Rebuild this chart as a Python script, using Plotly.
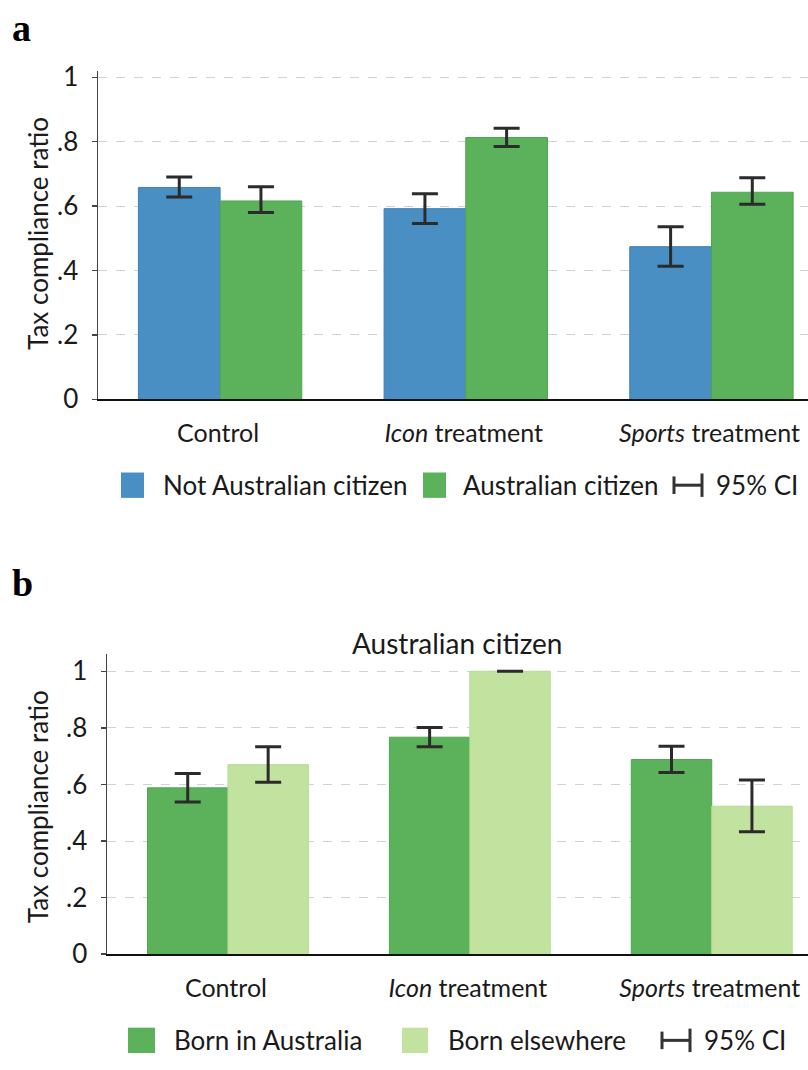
import plotly.graph_objects as go

W, H = 808, 1070
FONT = "Lato"
TXT = "#1a1a1a"
FS = 25

# ---------------- data ----------------
categories = ["Control", "<i>Icon</i> treatment", "<i>Sports</i> treatment"]

# Panel a
not_citizen_mean = [0.658, 0.592, 0.474]
not_citizen_lo = [0.628, 0.546, 0.413]
not_citizen_hi = [0.690, 0.638, 0.536]
citizen_mean = [0.616, 0.813, 0.643]
citizen_lo = [0.580, 0.785, 0.606]
citizen_hi = [0.660, 0.842, 0.688]

# Panel b (Australian citizens)
born_au_mean = [0.588, 0.767, 0.688]
born_au_lo = [0.538, 0.733, 0.642]
born_au_hi = [0.639, 0.801, 0.735]
born_else_mean = [0.670, 1.000, 0.523]
born_else_lo = [0.608, 1.000, 0.433]
born_else_hi = [0.733, 1.000, 0.616]

ytick_vals = [0, 0.2, 0.4, 0.6, 0.8, 1]
ytick_text = ["0", ".2", ".4", ".6", ".8", "1"]

series_names_a = ["Not Australian citizen", "Australian citizen"]
series_names_b = ["Born in Australia", "Born elsewhere"]
ci_label = "95% CI"
panel_b_title = "Australian citizen"
y_title = "Tax compliance ratio"

BLUE = "#4a8fc4"
GREEN = "#5bb25b"
LIGHT = "#c2e3a0"
ERR = "#2b2b2b"


def px(x):
    """page x pixel -> paper fraction"""
    return x / W


def py(y):
    """page y pixel -> paper fraction"""
    return (H - y) / H


def err(mean, lo, hi):
    return dict(type="data", symmetric=False,
                array=[h - m for m, h in zip(mean, hi)],
                arrayminus=[m - l for m, l in zip(mean, lo)],
                color=ERR, thickness=3, width=13)


fig = go.Figure()
fig.add_trace(go.Bar(x=categories, y=not_citizen_mean, name=series_names_a[0],
                     marker=dict(color=BLUE, line=dict(color="#3f80b6", width=1)),
                     error_y=err(not_citizen_mean, not_citizen_lo, not_citizen_hi),
                     xaxis="x", yaxis="y", offsetgroup="a1"))
fig.add_trace(go.Bar(x=categories, y=citizen_mean, name=series_names_a[1],
                     marker=dict(color=GREEN, line=dict(color="#4ea64e", width=1)),
                     error_y=err(citizen_mean, citizen_lo, citizen_hi),
                     xaxis="x", yaxis="y", offsetgroup="a2"))
fig.add_trace(go.Bar(x=categories, y=born_au_mean, name=series_names_b[0],
                     marker=dict(color=GREEN, line=dict(color="#4ea64e", width=1)),
                     error_y=err(born_au_mean, born_au_lo, born_au_hi),
                     xaxis="x2", yaxis="y2", offsetgroup="b1"))
fig.add_trace(go.Bar(x=categories, y=born_else_mean, name=series_names_b[1],
                     marker=dict(color=LIGHT, line=dict(color="#b5dc90", width=1)),
                     error_y=err(born_else_mean, born_else_lo, born_else_hi),
                     xaxis="x2", yaxis="y2", offsetgroup="b2"))

tickfont = dict(family=FONT, size=FS, color=TXT)
ytickfont = dict(family=FONT, size=26, color=TXT)

xa_common = dict(type="category", showline=True, linecolor="#111111", linewidth=2,
                 ticks="", showgrid=False, zeroline=False, tickfont=tickfont,
                 ticklabelstandoff=11, ticklabelshift=-2, fixedrange=True)
ya_common = dict(showline=True, linecolor="#444444", linewidth=1.5, ticks="outside",
                 ticklen=5, tickwidth=1.5, tickcolor="#444444",
                 tickvals=ytick_vals, ticktext=ytick_text, tickfont=ytickfont,
                 showgrid=True, gridcolor="#d2d2d2", griddash="dash", gridwidth=1,
                 zeroline=False, ticklabelstandoff=8, fixedrange=True)

fig.update_layout(
    width=W, height=H,
    margin=dict(l=0, r=0, t=0, b=0),
    paper_bgcolor="white", plot_bgcolor="white",
    barmode="group", bargap=0.335, bargroupgap=0,
    showlegend=False, hovermode=False,
    font=dict(family=FONT, color=TXT),
    xaxis=dict(domain=[px(98), 1], anchor="y", range=[-0.497, 2.393], **xa_common),
    yaxis=dict(domain=[py(398), py(62)], anchor="x", range=[0, 1.018], **ya_common),
    xaxis2=dict(domain=[px(107), 1], anchor="y2", range=[-0.500, 2.398], **xa_common),
    yaxis2=dict(domain=[py(966.7), py(659.3)], anchor="x2", range=[0, 1.06], **ya_common),
)

ann = []
shapes = []
# panel letters
ann.append(dict(text="<b>a</b>", x=px(10), y=py(17), xref="paper", yref="paper",
                xanchor="left", yanchor="middle", showarrow=False,
                font=dict(family="Liberation Serif", size=38, color="#000")))
ann.append(dict(text="<b>b</b>", x=px(10), y=py(586), xref="paper", yref="paper",
                xanchor="left", yanchor="middle", showarrow=False,
                font=dict(family="Liberation Serif", size=38, color="#000")))
# y titles
for yc in (228.5, 816):
    ann.append(dict(text=y_title, x=px(38), y=py(yc), xref="paper", yref="paper",
                    xanchor="center", yanchor="middle", textangle=-90, showarrow=False,
                    font=dict(family=FONT, size=26, color=TXT)))
# panel b title
ann.append(dict(text=panel_b_title, x=px(457), y=py(648), xref="paper", yref="paper",
                xanchor="center", yanchor="middle", showarrow=False,
                font=dict(family=FONT, size=28, color=TXT)))


def legend_row(yc, items, ci_x, ci_text_x):
    for (x0, x1, color, label, tx) in items:
        shapes.append(dict(type="rect", xref="paper", yref="paper",
                           x0=px(x0), x1=px(x1), y0=py(yc + 13), y1=py(yc - 13),
                           fillcolor=color, line=dict(width=0)))
        ann.append(dict(text=label, x=px(tx), y=py(yc), xref="paper", yref="paper",
                        xanchor="left", yanchor="middle", showarrow=False,
                        font=dict(family=FONT, size=26, color=TXT)))
    # CI glyph
    lc = dict(color="#333333", width=3)
    shapes.append(dict(type="line", xref="paper", yref="paper", x0=px(ci_x), x1=px(ci_x),
                       y0=py(yc - 9), y1=py(yc + 9), line=lc))
    shapes.append(dict(type="line", xref="paper", yref="paper", x0=px(ci_x), x1=px(ci_x + 28),
                       y0=py(yc), y1=py(yc), line=lc))
    shapes.append(dict(type="line", xref="paper", yref="paper", x0=px(ci_x + 28), x1=px(ci_x + 28),
                       y0=py(yc - 12), y1=py(yc + 12), line=lc))
    ann.append(dict(text=ci_label, x=px(ci_text_x), y=py(yc), xref="paper", yref="paper",
                    xanchor="left", yanchor="middle", showarrow=False,
                    font=dict(family=FONT, size=26, color=TXT)))


legend_row(486, [(121, 144, BLUE, series_names_a[0], 161),
                 (423, 446, GREEN, series_names_a[1], 461)], 674, 714)
legend_row(1055, [(128, 155, GREEN, series_names_b[0], 172),
                  (402, 428, LIGHT, series_names_b[1], 446)], 662, 702)

fig.update_layout(annotations=ann, shapes=shapes)
# remove the browser's default 8px body margin so the figure fills the window exactly
fig.write_html("out.html",
               config={"displayModeBar": False, "staticPlot": True},
               post_script="document.body.style.margin='0';document.body.style.overflow='hidden';")
